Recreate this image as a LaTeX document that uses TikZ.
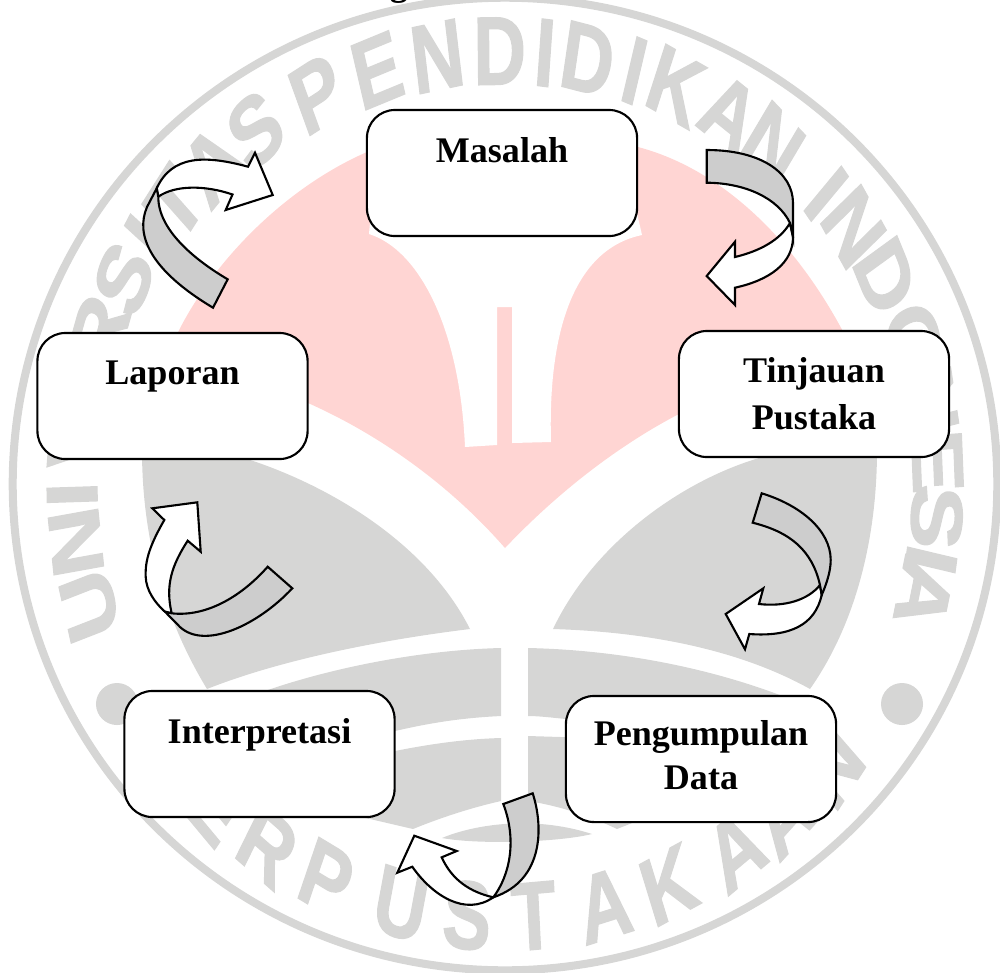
\documentclass[tikz,border=0pt]{standalone}
\usepackage{fontspec}
\setmainfont{Liberation Serif}
\newfontfamily\wmfont[BoldFeatures={FakeBold=1.5}]{Liberation Sans}
\definecolor{wmgray}{HTML}{D6D6D5}
\definecolor{wmpink}{HTML}{FFD5D3}
\definecolor{foldgray}{HTML}{CDCDCD}
\tikzset{
  stagebox/.style={draw=black,fill=white,rounded corners=0.28cm,line width=0.6pt,
    minimum width=2.7cm,minimum height=1.26cm,inner sep=0pt,align=center,
    font=\fontsize{10.25}{13.36}\selectfont\bfseries},
  wmletter/.style={inner sep=0pt,text=wmgray,transform shape,xscale=0.75,
    font=\wmfont\bfseries\fontsize{27.6}{27.6}\selectfont},
  foldback/.style={draw=black,fill=foldgray,line width=0.6pt,line join=miter},
  foldfront/.style={draw=black,fill=white,line width=0.6pt,line join=miter}
}
\begin{document}
\begin{tikzpicture}[x=0.01cm,y=-0.01cm]
\useasboundingbox (0,0) rectangle (1000,972);

\fill[wmgray,even odd rule] (505,484) ellipse [x radius=4.96cm,y radius=4.90cm]
  (505,484) ellipse [x radius=4.88cm,y radius=4.82cm];
\foreach \ang/\ch [count=\i] in {196.3/U,187.7/N,181.4/I,174/V,166.5/E,159.5/R,151.7/S,145.5/I,139.7/T,132.5/A,125.2/S,
    115.8/P,107.2/E,99/N,90.7/D,84.7/I,79/D,72.6/I,66.8/K,58.8/A,51.7/N,42.1/I,36.4/N,28.6/D,19.2/O,11/N,3/E,-4.4/S,-10.1/I,-14.8/A}{
  \node[wmletter,rotate=\ang-90] (top\i) at ({505+433*cos(\ang)},{484-433*sin(\ang)}) {\ch};
}
\foreach \ang/\ch [count=\i] in {219/P,228/E,236.7/R,245.6/P,256.1/U,265/S,273.8/T,283.3/A,292.2/K,302.2/A,309.9/A,319.2/N}{
  \node[wmletter,rotate=\ang+90] (low\i) at ({505+433*cos(\ang)},{484-433*sin(\ang)}) {\ch};
}
\fill[wmgray] (117,704) circle (0.21cm);
\fill[wmgray] (902,704) circle (0.21cm);

\fill[wmpink] (505,548) .. controls (450,485) and (380,435) .. (308,403) -- (172,345)
  .. controls (205,270) and (280,190) .. (367,152)
  .. controls (450,118) and (560,118) .. (638,147)
  .. controls (725,170) and (800,245) .. (850,345)
  -- (800,360) -- (677,415) .. controls (620,445) and (560,490) .. (505,548) -- cycle;
\fill[white] (372,200) -- (369,234) .. controls (420,250) and (460,330) .. (465,447)
  -- (497,445) -- (497,307) -- (512,307) -- (512,443) -- (551,442)
  .. controls (548,340) and (570,250) .. (642,235) -- (634,200) -- cycle;

\fill[wmgray] (142,450) -- (215,450) .. controls (300,470) and (420,530) .. (470,629)
  .. controls (380,640) and (280,660) .. (207,689)
  .. controls (165,620) and (142,540) .. (142,450) -- cycle;
\fill[wmgray] (877,450) -- (795,450) .. controls (710,462) and (600,530) .. (553,629)
  .. controls (650,632) and (740,650) .. (810,689)
  .. controls (855,625) and (877,540) .. (877,450) -- cycle;
\fill[wmgray] (262,692) .. controls (330,668) and (420,650) .. (501,648) -- (501,716)
  .. controls (460,718) and (430,723) .. (395,731) -- (300,740) -- cycle;
\fill[wmgray] (528,648) .. controls (620,650) and (710,668) .. (785,697) -- (700,740)
  -- (566,719) .. controls (555,718) and (540,716) .. (528,716) -- cycle;
\fill[wmgray] (350,760) -- (395,751) .. controls (430,744) and (465,739) .. (501,738) -- (501,801)
  .. controls (470,808) and (440,818) .. (413,829) -- (340,812) -- cycle;
\fill[wmgray] (528,736) -- (660,740) -- (660,812) -- (617,829)
  .. controls (590,816) and (560,806) .. (528,801) -- cycle;
\fill[wmgray] (442,838) .. controls (470,826) and (530,814) .. (592,834)
  .. controls (560,842) and (480,845) .. (442,838) -- cycle;

\node[font=\fontsize{10.25}{13.36}\selectfont\bfseries,anchor=base] (caption) at (399,-5) {g};

\draw[foldfront] (735,287.7) .. controls (770,280) and (793,263) .. (793,237) -- (790,223)
  .. controls (780,240) and (760,251) .. (735,257) -- (735,241.7) -- (706.7,276) -- (735,305) -- cycle;
\draw[foldback] (706.7,150) .. controls (760,150) and (793,172) .. (793,203) -- (793,237) -- (790,223)
  .. controls (778,198) and (745,183) .. (706.7,182.7) -- cycle;

\draw[foldfront] (749.3,634) .. controls (790,637) and (815,625) .. (821.7,595) -- (820,585)
  .. controls (808,600) and (785,607) .. (759,604) -- (763.3,588.3) -- (725.7,614) -- (745,649.3) -- cycle;
\draw[foldback] (761.7,493.3) .. controls (800,505) and (830.7,530) .. (830.7,560)
  .. controls (830.7,572) and (826,585) .. (821.7,595) -- (820,585)
  .. controls (812,550) and (790,532) .. (752.7,522.7) -- cycle;

\draw[foldfront] (412.3,866.7) .. controls (432,895) and (465,917) .. (493.3,897.3)
  .. controls (470,892) and (452,880) .. (441.7,857.3) -- (456.7,851) -- (414.3,835.7) -- (397.3,872.7) -- cycle;
\draw[foldback] (503.3,804) -- (532.7,793.3) .. controls (543,825) and (545,880) .. (493.3,897.3)
  .. controls (510,875) and (517,840) .. (503.3,804) -- cycle;

\draw[foldfront] (164.3,520) .. controls (150,545) and (145,560) .. (145.7,576.7)
  .. controls (146,590) and (155,603) .. (165,611.7) -- (171.7,613.3)
  .. controls (165,585) and (172,565) .. (187.7,540.7) -- (200.7,551.7) -- (197.3,502.3) -- (152.3,508.3) -- cycle;
\draw[foldback] (267.7,566.7) -- (292.3,588.3) .. controls (258,625) and (205,650) .. (180,627) -- (165,611.7)
  -- (171.7,613.3) .. controls (205,617) and (240,598) .. (267.7,566.7) -- cycle;

\draw[foldfront] (156.7,188.3) .. controls (172,155) and (205,155) .. (248,166.7) -- (255,152.7) -- (272.7,195)
  -- (225.7,210) -- (232.5,194.5) .. controls (205,185) and (175,185) .. (158.3,196.7) -- cycle;
\draw[foldback] (213,307.7) -- (227.7,279.3) .. controls (195,260) and (158,230) .. (158.3,196.7) -- (156.7,188.3)
  -- (147,207) .. controls (135,235) and (150,270) .. (213,307.7) -- cycle;

\node[stagebox] (masalah) at (502,173) {Masalah\\\mbox{}};
\node[stagebox] (tinjauan) at (814,394) {Tinjauan\\Pustaka};
\node[stagebox,text depth=0.08cm] (pengumpulan) at (701,759) {Pengumpulan\\[-0.03cm]Data};
\node[stagebox] (interpretasi) at (259.5,754) {Interpretasi\\\mbox{}};
\node[stagebox] (laporan) at (172.5,396) {Laporan\\\mbox{}};

\end{tikzpicture}
\end{document}
